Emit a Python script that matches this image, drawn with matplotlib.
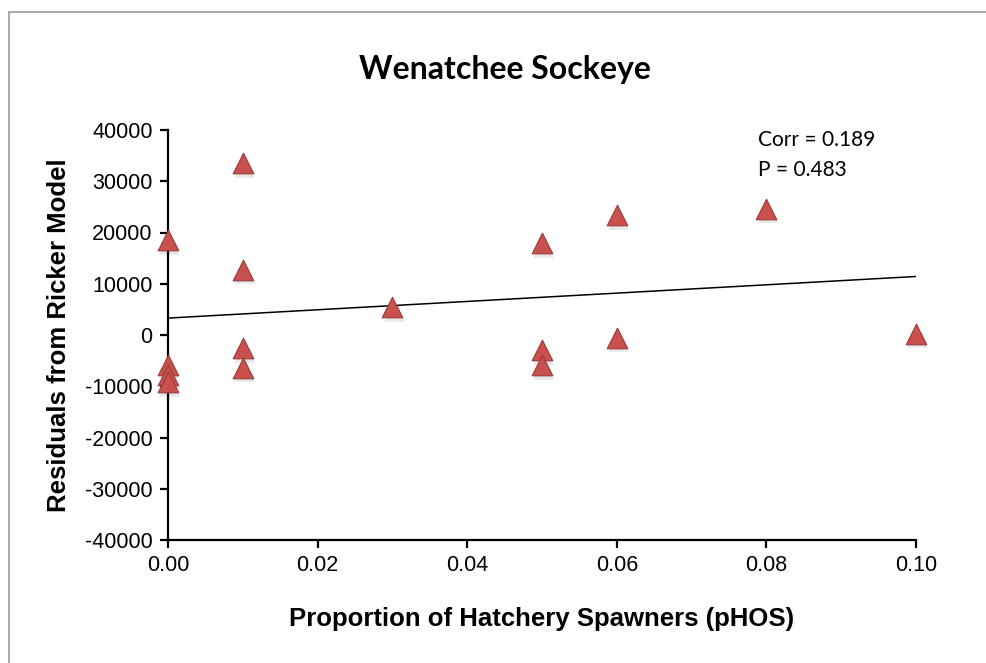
import numpy as np
import matplotlib
matplotlib.use("Agg")
import matplotlib.pyplot as plt
import matplotlib.transforms as mtransforms
from matplotlib.patches import Rectangle

# proportion of hatchery spawners vs residuals from ricker model
phos = [0.00, 0.00, 0.00, 0.00,
        0.01, 0.01, 0.01, 0.01,
        0.03,
        0.05, 0.05, 0.05,
        0.06, 0.06,
        0.08,
        0.10]
residuals = [18500, -5800, -7800, -9200,
             33500, 12700, -2600, -6400,
             5400,
             17900, -3000, -5900,
             23400, -500,
             24600,
             200]

x_ticks = [0.00, 0.02, 0.04, 0.06, 0.08, 0.10]
y_ticks = [-40000, -30000, -20000, -10000, 0, 10000, 20000, 30000, 40000]

fig = plt.figure(figsize=(9.87, 6.63), dpi=100)
ax = fig.add_axes([168 / 987, 1 - 540 / 663, 748 / 987, 410 / 663])

# light shadow under the markers
shadow = mtransforms.offset_copy(ax.transData, fig=fig, x=1, y=-2.5, units="points")
ax.scatter(phos, residuals, marker="^", s=220, color="#8a8a8a", alpha=0.2,
           linewidths=0, transform=shadow, zorder=2, clip_on=False)
ax.scatter(phos, residuals, marker="^", s=220, facecolor="#C8504D",
           edgecolor="#9A3B38", linewidths=0.8, zorder=3, clip_on=False)

# linear trend line
slope, intercept = np.polyfit(phos, residuals, 1)
xs = np.array([0.0, 0.10])
ax.plot(xs, intercept + slope * xs, color="black", lw=1.1, zorder=2)

ax.set_xlim(0, 0.10)
ax.set_ylim(-40000, 40000)
ax.set_xticks(x_ticks)
ax.set_xticklabels([f"{t:.2f}" for t in x_ticks])
ax.set_yticks(y_ticks)
ax.set_yticklabels([str(t) for t in y_ticks])

for s in ["top", "right"]:
    ax.spines[s].set_visible(False)
for s in ["left", "bottom"]:
    ax.spines[s].set_linewidth(1.6)
ax.tick_params(axis="both", direction="out", length=6, width=1.6,
               labelsize=15.5, pad=5)
for lbl in ax.get_xticklabels() + ax.get_yticklabels():
    lbl.set_fontfamily("Liberation Sans")

ax.set_xlabel("Proportion of Hatchery Spawners (pHOS)", fontsize=18.5,
              fontweight="bold", fontfamily="Liberation Sans")
ax.set_ylabel("Residuals from Ricker Model", fontsize=18.5,
              fontweight="bold", fontfamily="Liberation Sans")
ax.xaxis.set_label_coords(0.5, -0.193)
ax.xaxis.label.set_va("center")
ax.yaxis.set_label_coords(-0.146, 0.5)
ax.yaxis.label.set_va("center")

ax.text(0.789, 0.9756, "Corr = 0.189", transform=ax.transAxes,
        fontsize=15, fontfamily="Lato", va="center", ha="left")
ax.text(0.789, 0.902, "P = 0.483", transform=ax.transAxes,
        fontsize=15, fontfamily="Lato", va="center", ha="left")

fig.text(0.512, 1 - 70 / 663, "Wenatchee Sockeye", ha="center", va="center",
         fontsize=23, fontweight="bold", fontfamily="Lato")

# outer chart frame
fig.patches.append(Rectangle((9 / 987, -0.05), 1.1, 1.05 - 12 / 663,
                             transform=fig.transFigure, fill=False,
                             edgecolor="#9a9a9a", lw=1.2, clip_on=False))

fig.savefig("out.png", dpi=100)
